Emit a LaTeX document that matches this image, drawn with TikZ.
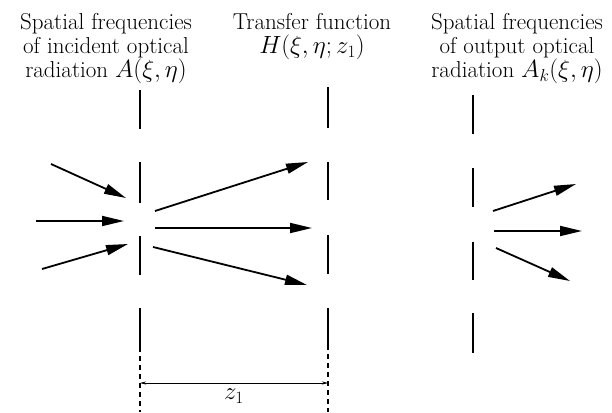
\documentclass[tikz,border=0pt]{standalone}
\usepackage{amsmath}
\usepackage{tikz}
\usetikzlibrary{positioning, arrows.meta, calc}

\tikzset{
  caption/.style={align=center, font=\fontsize{23}{24}\selectfont, inner sep=0pt},
  ray/.style={line width=1.8pt, -{Triangle[length=22pt,width=10pt]}},
  slit/.style={line width=1.3pt},
  guide/.style={line width=1.3pt, dash pattern=on 5pt off 4pt},
  dimline/.style={line width=0.5pt, {Stealth[length=6pt,width=3pt]}-{Stealth[length=6pt,width=3pt]}},
}

\begin{document}
\begin{tikzpicture}[x=1pt, y=-1pt]
  \useasboundingbox (0,0) rectangle (612,412);

  % captions
  \node[caption, anchor=north] (incident) at (106, 13)
    {Spatial frequencies\\ of incident optical\\ radiation $A(\xi, \eta)$};
  \node[caption, anchor=north] (transfer) at (312, 13)
    {Transfer function\\ $H(\xi, \eta; z_{1})$};
  \node[caption, anchor=north] (output) at (517, 13)
    {Spatial frequencies\\ of output optical\\ radiation $A_{k}(\xi, \eta)$};

  % apertures
  \foreach \a/\b in {90/129, 162/203, 236/275, 308/347}
    \draw[slit] (140,\a) -- (140,\b);
  \draw[guide] (140,347) -- (140,412);
  \foreach \a/\b in {87/128, 162/200, 235/274, 308/345}
    \draw[slit] (328,\a) -- (328,\b);
  \draw[guide] (328,345) -- (328,412);
  \foreach \a/\b in {95/134, 168/207, 242/280, 313/353}
    \draw[slit] (473,\a) -- (473,\b);

  % rays
  \coordinate (in1) at (51,164);  \coordinate (in1e) at (126,198);
  \coordinate (in2) at (36,221);  \coordinate (in2e) at (124,221);
  \coordinate (in3) at (42,269);  \coordinate (in3e) at (128,244);
  \coordinate (mid1) at (155,211); \coordinate (mid1e) at (308,162);
  \coordinate (mid2) at (155,228); \coordinate (mid2e) at (312,228);
  \coordinate (mid3) at (153,247); \coordinate (mid3e) at (307,285);
  \coordinate (out1) at (493,211); \coordinate (out1e) at (576,184);
  \coordinate (out2) at (494,231); \coordinate (out2e) at (582,231);
  \coordinate (out3) at (496,248); \coordinate (out3e) at (570,281);
  \foreach \r in {in1, in2, in3, mid1, mid2, mid3, out1, out2, out3}
    \draw[ray] (\r) -- (\r e);

  % distance
  \coordinate (dimL) at (140,383);
  \coordinate (dimR) at (328,383);
  \draw[dimline] (dimL) -- (dimR)
    node[midway, below=6pt, font=\fontsize{26}{28}\selectfont, inner sep=0pt] (dist) {$z_{1}$};
\end{tikzpicture}
\end{document}
